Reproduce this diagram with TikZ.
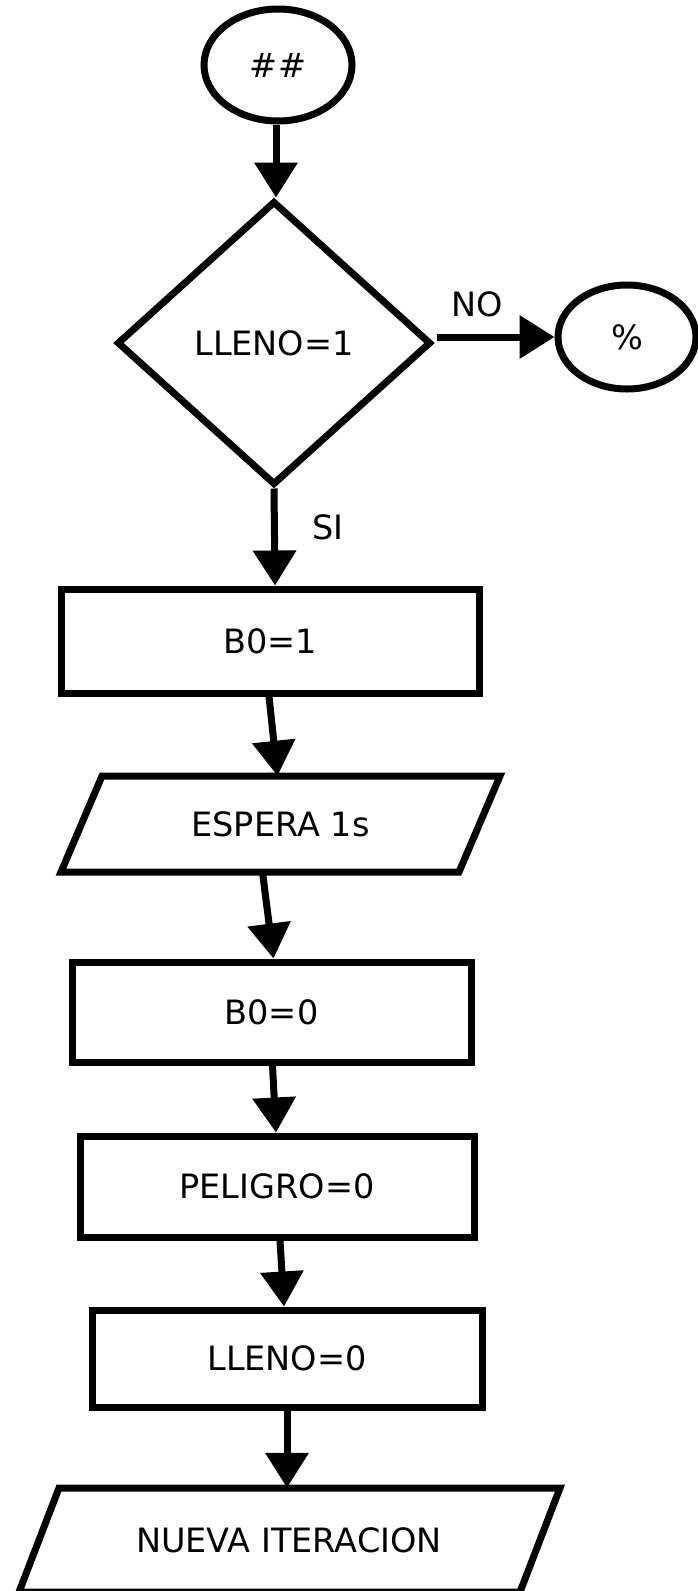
\documentclass[tikz,border=0pt]{standalone}
\usepackage{fontspec}
\setmainfont{DejaVu Sans}
\usetikzlibrary{arrows.meta,shapes.geometric,calc}
\begin{document}
\begin{tikzpicture}[x=1pt,y=-1pt,
  every node/.style={font=\fontsize{33.5}{40}\selectfont, inner sep=0pt},
  shp/.style={draw=black, line width=7pt, fill=white},
  box/.style={shp, rectangle},
  oval/.style={shp, ellipse},
  txt/.style={draw=none},
  arr/.style={line width=7pt, -{Triangle[length=35pt,width=42pt]}},
  lbl/.style={draw=none}]
\useasboundingbox (0,0) rectangle (697,1591);
% nodes
\node[oval, minimum width=148pt, minimum height=112pt] (start) at (278,65) {\#\#};
\node[shp, diamond, minimum width=314pt, minimum height=284pt] (d) at (274,343) {LLENO=1};
\node[oval, minimum width=138pt, minimum height=104pt] (end) at (627,337) {\%};
\node[box, minimum width=418pt, minimum height=104pt] (b1) at (270,641) {B0=1};
% parallelogram 1
\node[txt, minimum width=300pt, minimum height=96pt] (p1) at (280.5,824) {ESPERA 1s};
\draw[shp, line join=miter] (102,776) -- (500,776) -- (459,872) -- (61,872) -- cycle;
\node[txt] at (p1) {ESPERA 1s};
\node[box, minimum width=399pt, minimum height=100pt] (b2) at (271.5,1012) {B0=0};
\node[box, minimum width=394pt, minimum height=101pt] (b3) at (277,1186.5) {PELIGRO=0};
\node[box, minimum width=390pt, minimum height=97pt] (b4) at (287,1358.5) {LLENO=0};
% parallelogram 2
\node[txt, minimum width=400pt, minimum height=104pt] (p2) at (289,1540) {NUEVA ITERACION};
\draw[shp, line join=miter] (59,1488) -- (560,1488) -- (520,1592) -- (19,1592) -- cycle;
\node[txt] at (p2) {NUEVA ITERACION};
% connectors
\draw[arr] ([xshift=-2pt]start.south) -- ([xshift=2pt]d.north);
\draw[arr] ([shift={(2pt,6pt)}]d.east) -- (end.west);
\node[lbl] (no) at (477,304) {NO};
\draw[arr] (d.south) -- ([xshift=5pt]b1.north);
\node[lbl] (si) at (328,527) {SI};
\draw[arr] ([xshift=-1pt]b1.south) -- ([xshift=-3pt]p1.north);
\draw[arr] ([xshift=-18pt]p1.south) -- ([xshift=2pt]b2.north);
\draw[arr] ([xshift=1pt]b2.south) -- ([xshift=-1pt]b3.north);
\draw[arr] ([xshift=3pt]b3.south) -- ([xshift=-3pt]b4.north);
\draw[arr] (b4.south) -- ([xshift=-2pt]p2.north);
\end{tikzpicture}
\end{document}
